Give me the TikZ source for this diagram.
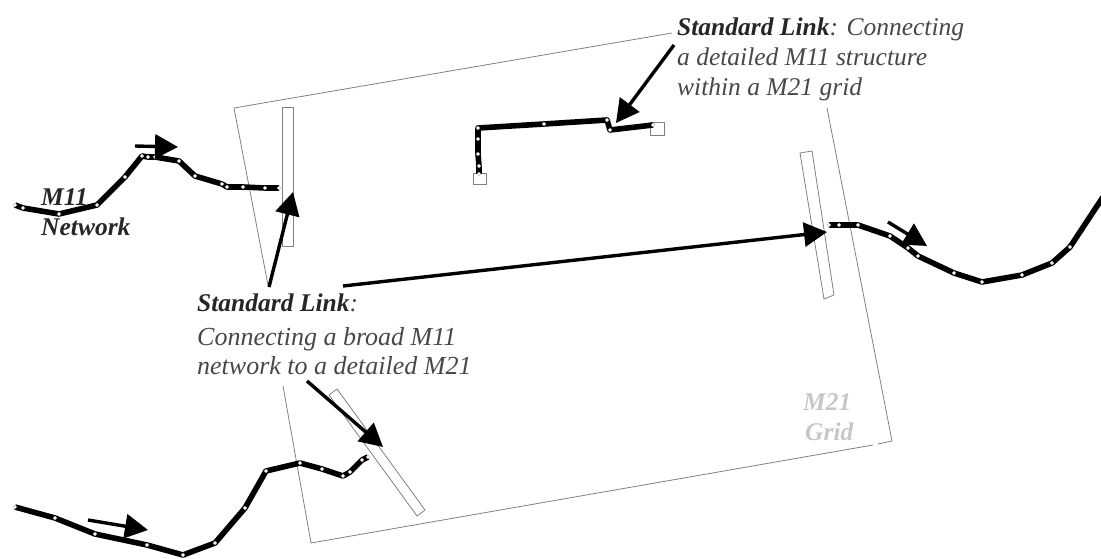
\documentclass[tikz,border=0pt]{standalone}
\usepackage{fontspec}
\setmainfont{Liberation Serif}
\usetikzlibrary{arrows.meta}
\definecolor{txt}{gray}{0.28}
\tikzset{
  grid line/.style={draw=black!50,line width=0.8pt},
  net/.style={draw=black,line width=5.6pt,line join=round,mark=*,mark size=1.9pt,mark options={fill=white,draw=red!25!black!35,line width=0.4pt}},
  endbox/.style={draw=black!50,line width=0.8pt},
  bigarrow/.style={draw=black,line width=3.4pt,-{Triangle[length=23pt,width=24pt]}},
  label/.style={font=\fontsize{25.5}{30}\selectfont\itshape,text=txt,inner sep=0pt,anchor=base west},
  wide label/.style={font=\fontsize{26}{30}\selectfont\itshape,text=txt,inner sep=0pt,anchor=base west},
  bold label/.style={font=\fontsize{25.5}{30}\selectfont\bfseries\itshape,text=black!85,inner sep=0pt,anchor=base west},
  pale label/.style={font=\fontsize{25.5}{30}\selectfont\bfseries\itshape,text=black!22,inner sep=0pt,anchor=base west}
}
\newcommand{\lead}[1]{{\bfseries\color{black!85}#1}}
\begin{document}
\begin{tikzpicture}[x=1pt,y=-1pt]
\useasboundingbox (0,0) rectangle (1101,559);
% grid outline, interrupted by the labels
\coordinate (gTL) at (234,108);
\coordinate (gTR1) at (672,33);
\coordinate (gRt) at (827,108);
\coordinate (gBR) at (892,441);
\coordinate (gB1) at (878,444);
\coordinate (gB2) at (873,445);
\coordinate (gBL) at (311,543);
\coordinate (gL1) at (268,285);
\coordinate (gL2) at (283,386);
\draw[grid line] (gL1) -- (gTL) -- (gTR1);
\draw[grid line] (gRt) -- (gBR) -- (gB1);
\draw[grid line] (gB2) -- (gBL) -- (gL2);
% interface strips
\draw[endbox] (282,107) -- (293.5,107) -- (293.5,246) -- (282,246) -- cycle;
\draw[endbox] (800,153) -- (812,151) -- (834,295) -- (824,299) -- cycle;
\draw[endbox] (329,395) -- (337,389) -- (425,510) -- (417,516) -- cycle;
\draw[endbox] (473,173) rectangle (486,184);
\draw[endbox] (650,122) rectangle (664,135);
% networks
\draw[net] plot coordinates {(15,205) (23,208) (59,214) (97,205) (125,177) (142,156) (148,157) (155,157) (179,161) (195,176) (222,184) (227,187) (243,187) (265,188) (279,188)};
\draw[net] plot coordinates {(829,225) (839,225) (858,225) (890,236) (908,248) (918,256) (954,273) (982,282) (1022,275) (1052,263) (1070,247) (1103,197)};
\draw[net] plot coordinates {(15,507) (55,518) (95,534) (147,545) (183,555) (215,543) (245,508) (266,471) (300,463) (322,469) (343,476) (350,472) (362,460) (368,457)};
\draw[net] plot coordinates {(479,174) (479,166) (478,154) (478,139) (478,128) (544,124) (607,120) (610,130) (653,125)};
% labels
\node[label] (t1a) at (677,36) {\lead{Standard Link}: Connecting};
\node[label] (t1c) at (677,66) {a detailed M11 structure};
\node[label] (t1d) at (677,96) {within a M21 grid};
\node[label] (t2a) at (197,311) {\lead{Standard Link}:};
\node[wide label] (t2b) at (197,345) {Connecting a broad M11};
\node[wide label] (t2c) at (197,374) {network to a detailed M21};
\node[bold label] (m11) at (41,205) {M11};
\node[bold label] (netw) at (41,235) {Network};
\node[pale label] (m21) at (803,410) {M21};
\node[pale label] (grd) at (805,440) {Grid};
% callout arrows
\coordinate (a1s) at (269,287); \coordinate (a1e) at (293,192);
\coordinate (a2s) at (343,286); \coordinate (a2e) at (827,232);
\coordinate (a3s) at (307,381); \coordinate (a3e) at (383,447);
\coordinate (a4s) at (674,45);  \coordinate (a4e) at (616,123);
\draw[bigarrow] (a1s) -- (a1e);
\draw[bigarrow] (a2s) -- (a2e);
\draw[bigarrow] (a3s) -- (a3e);
\draw[bigarrow] (a4s) -- (a4e);
% flow arrows
\coordinate (f1s) at (135,146); \coordinate (f1e) at (178,147);
\coordinate (f2s) at (888,222); \coordinate (f2e) at (927,246);
\coordinate (f3s) at (88,520);  \coordinate (f3e) at (148,530);
\draw[bigarrow] (f1s) -- (f1e);
\draw[bigarrow] (f2s) -- (f2e);
\draw[bigarrow] (f3s) -- (f3e);
\end{tikzpicture}
\end{document}
